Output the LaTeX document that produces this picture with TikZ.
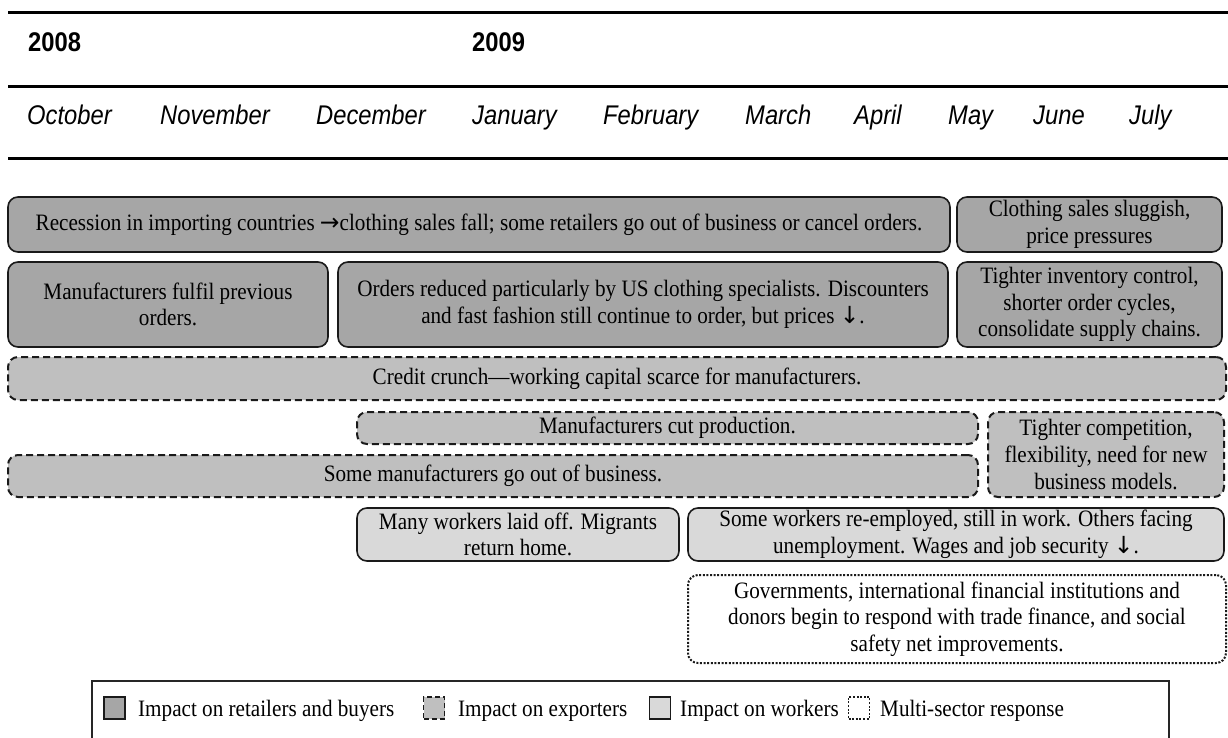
\documentclass[tikz,border=0pt]{standalone}
\usepackage{fontspec}
\setmainfont{Liberation Serif}[FakeStretch=0.9]
\newfontfamily\hdrfont{Liberation Sans}[FakeStretch=0.88]
\newfontfamily\arrowfont{DejaVu Sans}
\newcommand\rarr{{\arrowfont →}}
\newcommand\darr{{\arrowfont ↓}}
\definecolor{retailfill}{HTML}{A6A6A6}
\definecolor{exportfill}{HTML}{BFBFBF}
\definecolor{workerfill}{HTML}{D9D9D9}
\definecolor{edgecol}{HTML}{1A1A1A}
\tikzset{
  basebox/.style={inner sep=0pt, align=center, text=black,
    font=\fontsize{23.5}{26.7}\selectfont},
  retailbox/.style={basebox, draw=edgecol, line width=1.6pt, fill=retailfill, rounded corners=10pt},
  exportbox/.style={basebox, draw=edgecol, line width=2pt, fill=exportfill, rounded corners=10pt,
    dash pattern=on 7pt off 4pt},
  workerbox/.style={basebox, draw=edgecol, line width=1.6pt, fill=workerfill, rounded corners=10pt},
  multibox/.style={basebox, draw=edgecol, line width=2pt, fill=white, rounded corners=10pt,
    dash pattern=on 2pt off 1.6pt},
  rulebar/.style={line width=3pt, black},
  monthlbl/.style={anchor=base west, inner sep=0pt, font=\hdrfont\itshape\fontsize{27}{30}\selectfont},
  yearlbl/.style={anchor=base west, inner sep=0pt, font=\hdrfont\bfseries\fontsize{27}{30}\selectfont},
  legtxt/.style={anchor=base west, inner sep=0pt, font=\fontsize{23.5}{26}\selectfont},
  legsq/.style={minimum width=21pt, minimum height=22pt, inner sep=0pt},
}
\begin{document}
\begin{tikzpicture}[x=1pt,y=-1pt]
\useasboundingbox (0,0) rectangle (1228,738);
\fill[white] (0,0) rectangle (1228,738);

% header rules
\draw[rulebar] (8,13) -- (1228,13);
\draw[rulebar] (8,87) -- (1228,87);
\draw[rulebar] (8,159) -- (1228,159);

% years
\node[yearlbl] (y2008) at (28,52) {2008};
\node[yearlbl] (y2009) at (472,52) {2009};

% months
\node[monthlbl] (moct) at (27,125) {October};
\node[monthlbl] (mnov) at (160,125) {November};
\node[monthlbl] (mdec) at (316,125) {December};
\node[monthlbl] (mjan) at (472,125) {January};
\node[monthlbl] (mfeb) at (603,125) {February};
\node[monthlbl] (mmar) at (745,125) {March};
\node[monthlbl] (mapr) at (854,125) {April};
\node[monthlbl] (mmay) at (948,125) {May};
\node[monthlbl] (mjun) at (1033,125) {June};
\node[monthlbl] (mjul) at (1129,125) {July};

% row 1
\node[retailbox, minimum width=942pt, minimum height=55pt] (bA) at (479,224.5)
  {Recession in importing countries \rarr clothing sales fall; some retailers go out of business or cancel orders.};
\node[retailbox, minimum width=265pt, minimum height=55pt] (bB) at (1089.5,224.5)
  {Clothing sales sluggish,\\ price pressures};
% row 2
\node[retailbox, minimum width=320pt, minimum height=85pt] (bC) at (168,304.5)
  {Manufacturers fulfil previous\\ orders.};
\node[retailbox, minimum width=610pt, minimum height=85pt] (bD) at (643,304.5)
  {Orders reduced particularly by US clothing specialists. Discounters\\ and fast fashion still continue to order, but prices \darr.};
\node[retailbox, minimum width=265pt, minimum height=85pt] (bE) at (1089.5,304.5)
  {Tighter inventory control,\\ shorter order cycles,\\ consolidate supply chains.};
% exporters
\node[exportbox, minimum width=1218pt, minimum height=43pt] (bF) at (617,378.5)
  {Credit crunch—working capital scarce for manufacturers.};
\node[exportbox, minimum width=621pt, minimum height=32pt] (bG) at (667.5,428)
  {Manufacturers cut production.};
\node[exportbox, minimum width=236pt, minimum height=85pt] (bH) at (1106,454.5)
  {Tighter competition,\\ flexibility, need for new\\ business models.};
\node[exportbox, minimum width=970pt, minimum height=42pt] (bI) at (493,476)
  {Some manufacturers go out of business.};
% workers
\node[workerbox, minimum width=322pt, minimum height=53pt] (bJ) at (518,534.5)
  {Many workers laid off. Migrants\\ return home.};
\node[workerbox, minimum width=536pt, minimum height=53pt] (bK) at (956,534.5)
  {Some workers re-employed, still in work. Others facing\\ unemployment. Wages and job security \darr.};
% multi-sector
\node[multibox, minimum width=538pt, minimum height=88pt] (bL) at (957,619)
  {Governments, international financial institutions and\\ donors begin to respond with trade finance, and social\\ safety net improvements.};

% legend frame
\draw[line width=1.2pt, black!85] (92,738) -- (92,681) -- (1169,681) -- (1169,738);

% legend items
\node[legsq, draw=edgecol, line width=1.4pt, fill=retailfill] (lsq1) at (114.5,708) {};
\node[legtxt] (lt1) at (138,716) {Impact on retailers and buyers};
\node[legsq, draw=edgecol, line width=1.6pt, fill=exportfill, dash pattern=on 5pt off 3pt] (lsq2) at (434,708) {};
\node[legtxt] (lt2) at (458,716) {Impact on exporters};
\node[legsq, draw=edgecol, line width=1.4pt, fill=workerfill] (lsq3) at (660,708) {};
\node[legtxt] (lt3) at (680,716) {Impact on workers};
\node[legsq, draw=edgecol, line width=1.6pt, fill=white, dash pattern=on 2pt off 1.6pt] (lsq4) at (859,708) {};
\node[legtxt] (lt4) at (880,716) {Multi-sector response};
\end{tikzpicture}
\end{document}
